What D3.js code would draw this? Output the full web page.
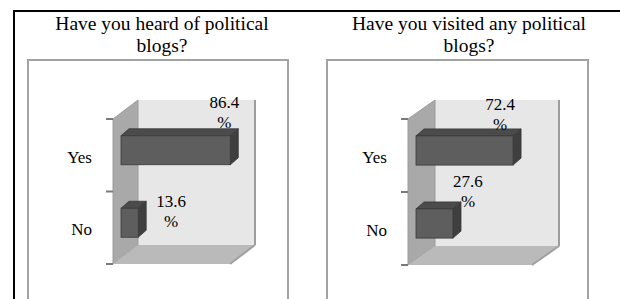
<!DOCTYPE html>
<html lang="en">
<head>
<meta charset="UTF-8">
<title>Political blogs</title>
<style>
    body { margin: 0; background: #fff; }
    svg text { font-family: "Liberation Serif", "Times New Roman", Times, serif; fill: #000; }
</style>
</head>
<body>
<svg width="620" height="299"></svg>
<script src="https://d3js.org/d3.v7.min.js"></script>
<script>
// data
const titles = [
    ["Have you heard of political", "blogs?"],
    ["Have you visited any political", "blogs?"]
];
const categories = ["Yes", "No"];
const heardValues = [86.4, 13.6];
const visitedValues = [72.4, 27.6];

// layout for each panel (pixels)
const panels = [
    { values: heardValues, title: titles[0], cx: 162, frameX: 28, frameW: 260,
      axisX: 113, top: 119, bottom: 264, plotW: 117, dx: 25, dy: -19,
      labelShift: [[-6, -28], [33, -1]] },
    { values: visitedValues, title: titles[1], cx: 469, frameX: 327, frameW: 261,
      axisX: 408, top: 119, bottom: 265, plotW: 124, dx: 27, dy: -19,
      labelShift: [[-13, -26], [15, -22]] }
];

const svg = d3.select("svg");

// table borders
svg.append("line").attr("x1", 13).attr("x2", 620).attr("y1", 11).attr("y2", 11)
    .attr("stroke", "#000").attr("stroke-width", 2);
svg.append("line").attr("x1", 14).attr("x2", 14).attr("y1", 10).attr("y2", 299)
    .attr("stroke", "#000").attr("stroke-width", 2);

const barOff = 8;     // bar front plane shift in x
const barOffY = -5;   // ... and in y
const barDx = 8, barDy = -7;  // bar depth

panels.forEach(p => {
    const g = svg.append("g");

    // title
    g.selectAll(".title").data(p.title).enter().append("text")
        .attr("x", p.cx).attr("y", (d, i) => 30 + i * 22)
        .attr("text-anchor", "middle")
        .style("font-size", "19.5px")
        .text(d => d);

    // chart frame
    g.append("rect")
        .attr("x", p.frameX).attr("y", 60)
        .attr("width", p.frameW).attr("height", 270)
        .attr("fill", "none").attr("stroke", "#a3a3a3").attr("stroke-width", 2);

    const x = d3.scaleLinear().domain([0, 92.5]).range([0, p.plotW]);
    const y = d3.scaleBand().domain(categories).range([p.top, p.bottom])
        .paddingInner(0.6).paddingOuter(0.3);

    const x0 = p.axisX, yT = p.top, yB = p.bottom, dx = p.dx, dy = p.dy;
    const xR = x0 + x(92.5);

    // back wall
    g.append("polygon")
        .attr("points", [[x0 + dx, yT + dy], [xR + dx, yT + dy], [xR + dx, yB + dy], [x0 + dx, yB + dy]].join(" "))
        .attr("fill", "#e7e7e7");
    // right edge of back wall
    g.append("line").attr("x1", xR + dx).attr("x2", xR + dx)
        .attr("y1", yT + dy).attr("y2", yB + dy)
        .attr("stroke", "#9d9d9d").attr("stroke-width", 2);

    // side wall
    g.append("polygon")
        .attr("points", [[x0, yT], [x0 + dx, yT + dy], [x0 + dx, yB + dy], [x0, yB]].join(" "))
        .attr("fill", "#a9a9a9").attr("stroke", "#9c9c9c").attr("stroke-width", 1);

    // floor
    g.append("polygon")
        .attr("points", [[x0, yB], [x0 + dx, yB + dy], [xR + dx, yB + dy], [xR, yB]].join(" "))
        .attr("fill", "#bababa");
    g.append("line").attr("x1", xR).attr("y1", yB).attr("x2", xR + dx).attr("y2", yB + dy)
        .attr("stroke", "#a0a0a0").attr("stroke-width", 2);

    // ticks
    g.selectAll(".tick").data([yT, yT + y.step(), yB]).enter().append("line")
        .attr("x1", x0 - 7).attr("x2", x0).attr("y1", d => d).attr("y2", d => d)
        .attr("stroke", "#7a7a7a").attr("stroke-width", 2);

    // category labels
    g.selectAll(".cat").data(categories).enter().append("text")
        .attr("x", x0 - 21)
        .attr("y", d => y(d) - y.step() * 0.3 + y.step() / 2)
        .attr("dy", "0.45em")
        .attr("text-anchor", "end")
        .style("font-size", "17px")
        .text(d => d);

    // bars
    const bars = g.selectAll(".bar").data(p.values).enter().append("g");
    bars.each(function (v, i) {
        const b = d3.select(this);
        const bx = x0 + barOff, by = y(categories[i]) + barOffY;
        const bw = x(v), bh = y.bandwidth();
        b.append("polygon")
            .attr("points", [[bx, by], [bx + barDx, by + barDy], [bx + bw + barDx, by + barDy], [bx + bw, by]].join(" "))
            .attr("fill", "#4b4b4b").attr("stroke", "#383838").attr("stroke-width", 0.8);
        b.append("polygon")
            .attr("points", [[bx + bw, by], [bx + bw + barDx, by + barDy], [bx + bw + barDx, by + bh + barDy], [bx + bw, by + bh]].join(" "))
            .attr("fill", "#3f3f3f").attr("stroke", "#383838").attr("stroke-width", 0.8);
        b.append("rect")
            .attr("x", bx).attr("y", by).attr("width", bw).attr("height", bh)
            .attr("fill", "#5e5e5e").attr("stroke", "#3a3a3a").attr("stroke-width", 0.8);

        // data label, split on two lines like the original
        const lx = bx + bw + p.labelShift[i][0], ly = by + p.labelShift[i][1];
        b.selectAll(".lbl").data([v.toFixed(1), "%"]).enter().append("text")
            .attr("x", lx).attr("y", (d, k) => ly + k * 20)
            .attr("text-anchor", "middle")
            .style("font-size", "17px")
            .text(d => d);
    });
});
</script>
</body>
</html>
